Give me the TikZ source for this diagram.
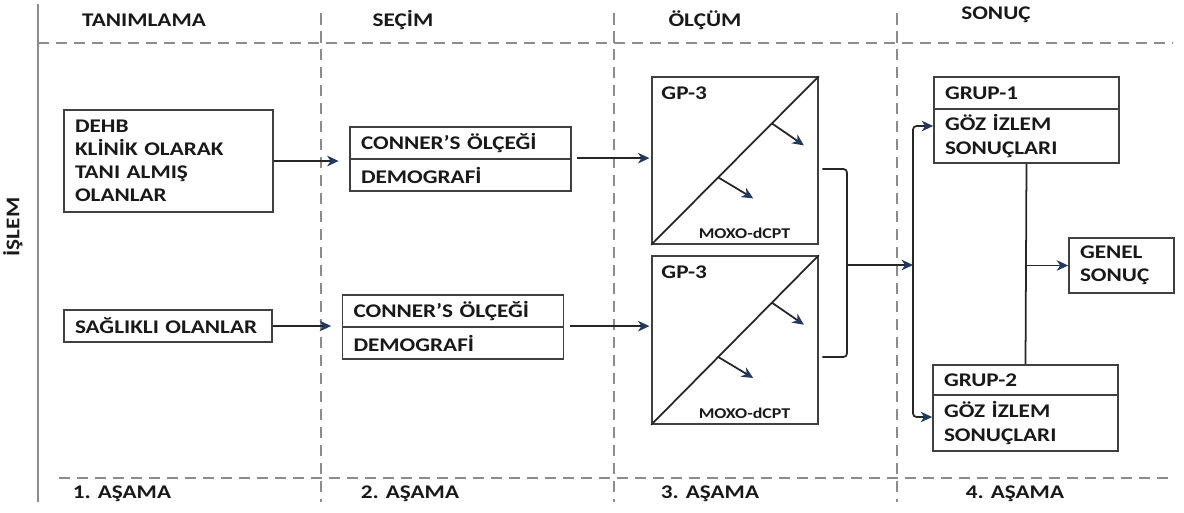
\documentclass[tikz,border=0pt]{standalone}
\usepackage{fontspec}
\setmainfont{Carlito}[FakeStretch=1.2]
\usetikzlibrary{arrows.meta,calc}
\definecolor{tipblue}{HTML}{1F3864}
\definecolor{rulegray}{HTML}{8C8C8C}
\definecolor{boxgray}{HTML}{404040}
\begin{document}
\begin{tikzpicture}[x=0.02cm, y=-0.02cm,
  every node/.style={font=\bfseries\fontsize{11}{13.2}\selectfont, text=black!90},
  box/.style={draw=boxgray, line width=1pt, inner xsep=0.22cm, inner ysep=0pt, align=left},
  phase/.style={draw=rulegray, line width=1pt, dash pattern=on 0.23cm off 0.13cm},
  arr/.style={draw=black!85, line width=1pt, -{Stealth[length=6.5pt,width=6pt,inset=2pt,color=tipblue]}},
  link/.style={draw=black!85, line width=1pt}]
\useasboundingbox (0,0) rectangle (1184,512);
\draw [rulegray, line width=1.2pt] (38,4) -- (38,502);
\draw [phase] (38,43) -- (1172,43);
\draw [phase] (59,478) -- (1172,478);
\draw [phase] (321,13) -- (321,502);
\draw [phase] (614,13) -- (614,502);
\draw [phase] (897,13) -- (897,502);
\node (islem) at (13,227) [rotate=90] {İŞLEM};
\node (h1) at (144,20) {TANIMLAMA};
\node (h2) at (403,20) {SEÇİM};
\node (h3) at (705,20) {ÖLÇÜM};
\node (h4) at (996,15) {SONUÇ};
\node (s1) at (122,494) {1. AŞAMA};
\node (s2) at (410,494) {2. AŞAMA};
\node (s3) at (710,494) {3. AŞAMA};
\node (s4) at (1015,494) {4. AŞAMA};
\node (dehb) at (168.5,161) [box, text width=3.74cm, minimum height=2.04cm] {DEHB\\KLİNİK OLARAK\\TANI ALMIŞ\\OLANLAR};
\node (sag) at (168,326) [box, text width=3.72cm, minimum height=0.64cm] {SAĞLIKLI OLANLAR};
\node (c1a) at (460.5,143) [box, text width=3.98cm, minimum height=0.64cm] {CONNER’S ÖLÇEĞİ};
\node (c1b) at (460.5,175) [box, text width=3.98cm, minimum height=0.64cm] {DEMOGRAFİ};
\node (c2a) at (453,311) [box, text width=3.98cm, minimum height=0.64cm] {CONNER’S ÖLÇEĞİ};
\node (c2b) at (453,343) [box, text width=3.98cm, minimum height=0.64cm] {DEMOGRAFİ};
\node (gp1) at (735,160.5) [box, minimum width=3.32cm, minimum height=3.34cm] {};
\node (gp2) at (735,340) [box, minimum width=3.32cm, minimum height=3.36cm] {};
\node (g1a) at (1026.5,93) [box, text width=3.26cm, minimum height=0.64cm] {GRUP-1};
\node (g1b) at (1026.5,136) [box, text width=3.26cm, minimum height=1.08cm] {GÖZ İZLEM\\SONUÇLARI};
\node (g2a) at (1025.5,380) [box, text width=3.26cm, minimum height=0.6cm] {GRUP-2};
\node (g2b) at (1025.5,423) [box, text width=3.26cm, minimum height=1.12cm] {GÖZ İZLEM\\SONUÇLARI};
\node (genel) at (1121.5,265.5) [box, text width=1.66cm, minimum height=1.1cm] {GENEL\\SONUÇ};
\foreach \g in {gp1,gp2} {
  \draw [link] (\g.south west) -- (\g.north east);
  \node (\g t) [anchor=west, inner sep=0pt] at ([xshift=0.2cm,yshift=-0.34cm]\g.north west) {GP-3};
  \node (\g m) at ([xshift=0.19cm,yshift=0.24cm]\g.south) {\fontsize{8.5}{10}\selectfont MOXO-dCPT};
  \draw [arr] ($(\g.south west)!0.72!(\g.north east)$) -- ++(32,22);
  \draw [arr] ($(\g.south west)!0.40!(\g.north east)$) -- ++(35,21);
}
\draw [arr, shorten >=6pt] (dehb.east) -- (dehb.east -| c1b.west);
\draw [arr, shorten >=6pt] (sag.east) -- (sag.east -| c2a.west);
\draw [arr, shorten <=3pt, shorten >=1pt] (c1b.north east) -- (c1b.north east -| gp1.west);
\draw [arr, shorten <=3pt, shorten >=1pt] (c2b.north east) -- (c2b.north east -| gp2.west);
\coordinate (brk) at (847,265);
\coordinate (bus) at (913,265);
\coordinate (bt) at (913,126);
\coordinate (bb) at (913,417);
\draw [link, rounded corners=2pt] ([xshift=2pt,yshift=-0.17cm]gp1.east) -| (brk) |- ([xshift=2pt,yshift=-0.34cm]gp2.east);
\draw [arr] (brk) -- (bus);
\draw [arr, rounded corners=2pt] (bus) |- (bt -| g1b.west);
\draw [arr, rounded corners=2pt] (bus) |- (bb -| g2b.west);
\draw [link] (g1b.south) -- (g2a.north);
\draw [arr] (g1b.south |- genel.west) -- (genel.west);
\end{tikzpicture}
\end{document}
